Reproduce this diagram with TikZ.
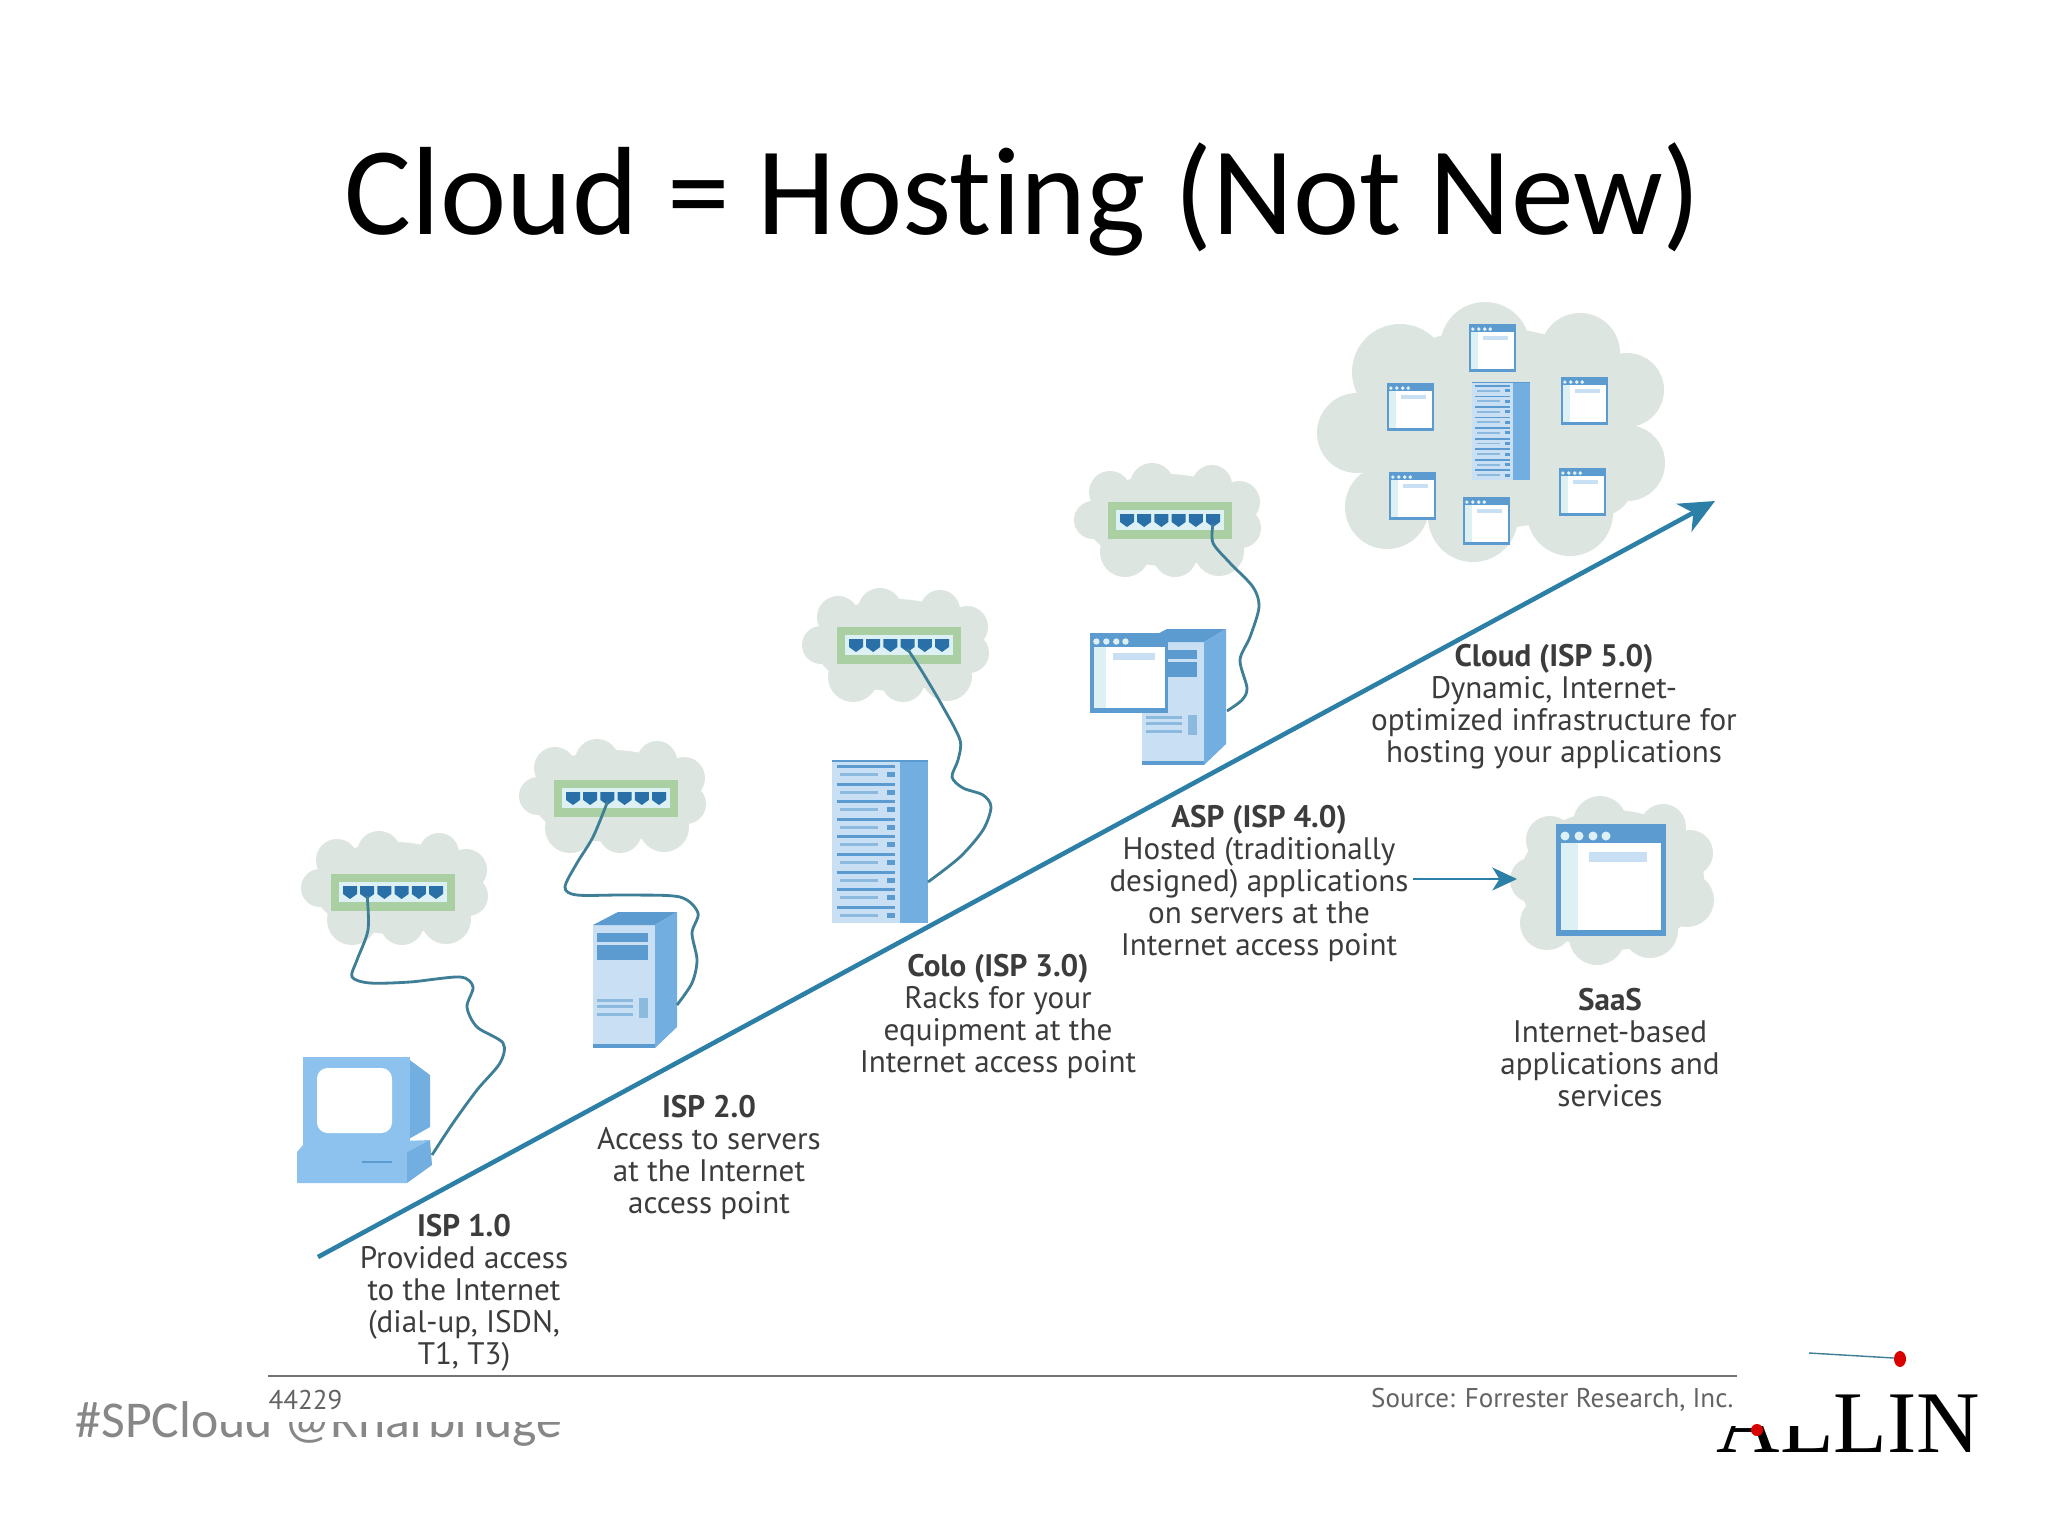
\documentclass[tikz,border=0pt]{standalone}
\usepackage{fontspec}
\setmainfont{PT Sans}
\newfontfamily\titlefont[Ligatures=NoCommon]{Carlito}
\newfontfamily\logofont{Liberation Serif}
\usetikzlibrary{arrows.meta}
\definecolor{cloudgray}{HTML}{DCE5DF}
\definecolor{boxgreen}{HTML}{A9CFA2}
\definecolor{boxlight}{HTML}{DDF1F5}
\definecolor{portblue}{HTML}{2A70A8}
\definecolor{wireblue}{HTML}{3E7E96}
\definecolor{linkblue}{HTML}{2C7FA6}
\definecolor{sidedark}{HTML}{72AEE0}
\definecolor{barblue}{HTML}{5B9BD0}
\definecolor{frontpale}{HTML}{C8DFF4}
\definecolor{pcblue}{HTML}{8EC2EE}
\definecolor{textgray}{HTML}{3C3C3C}
\tikzset{
  cablewire/.style={draw=wireblue,line width=0.8pt},
  stepnote/.style={text=textgray,align=center,anchor=north,inner sep=0pt,
    font=\fontsize{8.85}{9.05}\selectfont},
  smallnote/.style={text=textgray!80,inner sep=0pt,font=\fontsize{7.7}{8}\selectfont},
  pics/switchbox/.style={code={
    \fill[boxgreen] (-62,-18) rectangle (62,19);
    \fill[boxlight] (-54,-10) rectangle (54,10);
    \foreach \i in {0,...,5} {
      \coordinate (-p\i) at ({-43+17.2*\i},4);
      \fill[portblue] ({-43+17.2*\i-7},-6) -- ({-43+17.2*\i+7},-6) -- ({-43+17.2*\i+7},2)
        -- ({-43+17.2*\i},7) -- ({-43+17.2*\i-7},2) -- cycle;
    }
  }},
  pics/cloudblob/.style={code={
    \fill[cloudgray] (0,0) ellipse (80 and 46);
    \foreach \x/\y/\r in {-74/0/19,-57/-28/21,-15/-35/22,45/-35/20,72/-18/21,74/8/20,52/31/25,8/35/22,-42/32/25}
      \fill[cloudgray] (\x,\y) circle(\r);
  }},
  pics/appwindow/.style={code={
    \fill[barblue] (0,0) rectangle (110,112);
    \fill[boxlight] (5,19) rectangle (105,106);
    \fill[white] (22,19) rectangle (105,106);
    \fill[frontpale] (33,28) rectangle (91,38);
    \foreach \x in {9,23,37,50}
      \fill[boxlight] (\x,12) circle(4.5);
  }},
  pics/rackbox/.style={code={
    \fill[frontpale] (0,0) rectangle (68,163);
    \fill[sidedark] (68,0) rectangle (96,163);
    \fill[barblue] (0,0) rectangle (96,2);
    \foreach \i in {0,...,8} {
      \fill[barblue] (5,{5+17.6*\i}) rectangle (63,{8+17.6*\i});
      \fill[barblue!70] (8,{13+17.6*\i}) rectangle (46,{16+17.6*\i});
      \fill[barblue] (55,{12+17.6*\i}) rectangle (63,{17+17.6*\i});
    }
  }},
  pics/towerbox/.style={code={
    \fill[frontpale] (0,0) rectangle (62,123);
    \fill[barblue] (0,0) -- (25,-13) -- (84,-13) -- (62,0) -- cycle;
    \fill[sidedark] (62,0) -- (84,-13) -- (84,102) -- (62,123) -- cycle;
    \fill[barblue] (0,119) rectangle (62,123);
    \fill[barblue] (4,8) rectangle (55,17);
    \fill[barblue] (4,20) rectangle (55,35);
    \foreach \y in {74,80,88}
      \fill[barblue!70] (4,\y) rectangle (40,{\y+3});
    \fill[barblue!70] (46,73) rectangle (55,93);
  }}
}

\begin{document}
\begin{tikzpicture}[x=0.01cm,y=-0.01cm]
  \useasboundingbox (0,0) rectangle (2048,1536);
  % slide footer and logo, partly hidden by the pasted figure
  \node[anchor=base west,inner sep=0pt,text=black!47,font=\titlefont\fontsize{14.7}{18}\selectfont] (tag) at (75,1437) {\#SPCloud @Rharbridge};
  \node[anchor=base east,inner sep=0pt,font=\logofont\fontsize{25}{26}\selectfont] (logo) at (1981,1452) {ALLIN};
  \fill[white] (220,240) rectangle (1810,1422);
  \fill[white] (1660,1390) rectangle (1810,1426);
  \fill[red!85!black] (1757,1430) circle(6);
  \fill[red!85!black] (1900,1359) ellipse (6 and 8);
  \coordinate (swooshl) at (1809,1353);
  \coordinate (swooshr) at (1894,1358);
  \draw[wireblue,line width=0.4pt] (swooshl) -- (swooshr);
  \node[anchor=center,inner sep=0pt,font=\titlefont\fontsize{35.7}{40}\selectfont] (title) at (1023,199) {Cloud = Hosting (Not New)};

  % clouds
  \pic (cloudone) at (394,888) {cloudblob};
  \pic (cloudtwo) at (612,796) {cloudblob};
  \pic (cloudthree) at (895,645) {cloudblob};
  \pic (cloudfour) at (1167,520) {cloudblob};
  \fill[cloudgray] (1612,880) ellipse (92 and 70);
  \foreach \x/\y/\r in {1600/823/27,1550/840/24,1663/827/23,1690/853/23,1533/880/23,1547/923/27,1597/937/28,1650/930/28,1687/900/27}
    \fill[cloudgray] (\x,\y) circle(\r);
  \fill[cloudgray] (1495,428) ellipse (140 and 100);
  \foreach \x/\y/\r in {1400/372/48,1485/347/45,1580/353/40,1627/390/37,1357/433/40,1627/463/38,1387/507/42,1473/517/45,1570/513/43,1600/483/33}
    \fill[cloudgray] (\x,\y) circle(\r);

  % switches
  \pic (swone) at (393,892) {switchbox};
  \pic (swtwo) at (616,798) {switchbox};
  \pic (swthree) at (899,645) {switchbox};
  \pic (swfour) at (1170,520) {switchbox};

  % computer
  \fill[sidedark] (407,1058) -- (430,1075) -- (430,1127) -- (407,1140) -- cycle;
  \fill[pcblue] (303,1057) rectangle (410,1145);
  \fill[white,rounded corners=3pt] (317,1068) rectangle (392,1133);
  \fill[pcblue] (297,1152) -- (303,1145) -- (430,1140) -- (407,1152) -- (407,1183) -- (297,1183) -- cycle;
  \fill[sidedark] (407,1152) -- (430,1140) -- (432,1165) -- (407,1183) -- cycle;
  \fill[barblue] (362,1161) rectangle (392,1163);
  \coordinate (pcback) at (432,1155);

  % tower, rack and hosted window
  \pic (towerone) at (593,925) {towerbox};
  \coordinate (towerback) at (677,1005);
  \pic (rackone) at (832,760) {rackbox};
  \coordinate (rackback) at (928,882);
  \pic (towertwo) at (1142,642) {towerbox};
  \pic[scale=0.71] (appone) at (1090,633) {appwindow};
  \coordinate (towerfour) at (1227,711);

  % cables
  \draw[cablewire] plot[smooth] coordinates {(swone-p1) (368,930) (357,960) (352,977) (370,983) (410,982) (460,977) (473,987) (467,1007) (477,1027) (503,1043) (500,1063) (477,1090) (453,1123) (pcback)};
  \draw[cablewire] plot[smooth] coordinates {(swtwo-p2) (593,837) (577,863) (565,887) (577,895) (627,895) (680,897) (698,913) (692,933) (697,960) (692,983) (towerback)};
  \draw[cablewire] plot[smooth] coordinates {(swthree-p3) (923,673) (943,707) (960,740) (958,760) (952,777) (963,788) (983,795) (991,807) (983,830) (960,857) (rackback)};
  \draw[cablewire] plot[smooth] coordinates {(swfour-p5) (1213,543) (1230,563) (1253,587) (1259,607) (1250,637) (1240,660) (1247,688) (1242,700) (towerfour)};

  % big cloud contents
  \pic[scale=0.6] (rackcloud) at (1472,382) {rackbox};
  \pic[scale=0.425] (appa) at (1469,324) {appwindow};
  \pic[scale=0.425] (appb) at (1387,383) {appwindow};
  \pic[scale=0.425] (appc) at (1561,377) {appwindow};
  \pic[scale=0.425] (appd) at (1389,472) {appwindow};
  \pic[scale=0.425] (appe) at (1559,468) {appwindow};
  \pic[scale=0.425] (appf) at (1463,497) {appwindow};
  \pic (appsaas) at (1556,824) {appwindow};

  % growth line
  \coordinate (linestart) at (318,1257);
  \coordinate (lineend) at (1715,501);
  \draw[linkblue,line width=1.3pt,-{Stealth[length=10pt,width=9pt,inset=3pt]}] (linestart) -- (lineend);
  \coordinate (aspout) at (1413,879);
  \coordinate (saasin) at (1517,879);
  \draw[linkblue,line width=0.7pt,-{Stealth[length=7pt,width=6.5pt,inset=2pt]}] (aspout) -- (saasin);

  % labels
  \node[stepnote] (ispone) at (464,1214) {\textbf{ISP 1.0}\\Provided access\\to the Internet\\(dial-up, ISDN,\\T1, T3)};
  \node[stepnote] (isptwo) at (709,1095) {\textbf{ISP 2.0}\\Access to servers\\at the Internet\\access point};
  \node[stepnote] (colo) at (998,954) {\textbf{Colo (ISP 3.0)}\\Racks for your\\equipment at the\\Internet access point};
  \node[stepnote] (asp) at (1259,805) {\textbf{ASP (ISP 4.0)}\\Hosted (traditionally\\designed) applications\\on servers at the\\Internet access point};
  \node[stepnote] (cloudisp) at (1554,644) {\textbf{Cloud (ISP 5.0)}\\Dynamic, Internet-\\optimized infrastructure for\\hosting your applications};
  \node[stepnote] (saas) at (1610,988) {\textbf{SaaS}\\Internet-based\\applications and\\services};

  % figure footer
  \coordinate (rulel) at (268,1376);
  \coordinate (ruler) at (1737,1376);
  \draw[black!55,line width=0.6pt] (rulel) -- (ruler);
  \node[smallnote,anchor=west] (figno) at (268,1400) {44229};
  \node[smallnote,anchor=east] (source) at (1734,1400) {Source: Forrester Research, Inc.};
\end{tikzpicture}
\end{document}
